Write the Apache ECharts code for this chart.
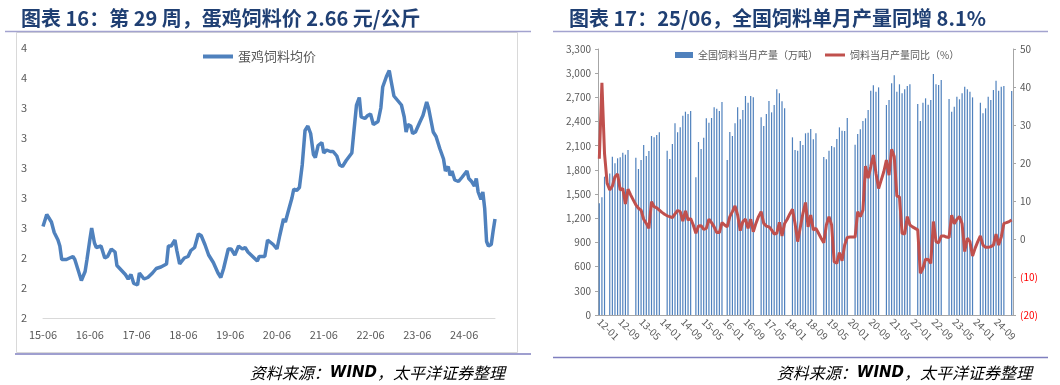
<!DOCTYPE html>
<html><head><meta charset="utf-8">
<script src="https://cdn.jsdelivr.net/npm/echarts@6/dist/echarts.min.js"></script>
<style>html,body{margin:0;padding:0;background:#fff}#c{width:1060px;height:385px}</style>
</head><body><div id="c"></div>
<script>
// ---- Left chart: egg-layer feed average price (weekly, position index along the category axis)
const eggLabels = ['15-06','16-06','17-06','18-06','19-06','20-06','21-06','22-06','23-06','24-06'];
const priceIdx = [0,4,9,12,16,18,20,25,32,34,37,41,45,47,50,52,55,57,62,66,69,73,77,79,82,88,91,94,97,101,103,108,112,117,121,126,132,134,137,141,143,146,148,151,155,158,162,166,169,173,177,182,187,190,193,198,201,205,209,213,216,219,224,229,231,237,240,242,246,250,253,257,259,262,266,268,271,274,277,280,283,286,289,291,294,298,300,303,307,310,314,317,320,324,330,332,335,338,340,344,347,350,353,355,358,361,363,367,370,372,375,379,381,383,386,388,390,393,395,398,403,406,410,412,417,420,424,428,430,433,435,437,440,444,448,453,455,458,461,463,465,468,470,472,474,476,479,481,483];
const price = [2.61,2.69,2.64,2.57,2.52,2.48,2.39,2.39,2.41,2.39,2.33,2.25,2.31,2.39,2.52,2.60,2.50,2.47,2.48,2.40,2.41,2.46,2.44,2.35,2.33,2.29,2.26,2.29,2.23,2.22,2.30,2.26,2.27,2.30,2.33,2.34,2.36,2.48,2.48,2.52,2.45,2.36,2.35,2.40,2.41,2.45,2.47,2.56,2.55,2.49,2.42,2.37,2.30,2.27,2.33,2.46,2.46,2.42,2.48,2.46,2.47,2.44,2.41,2.38,2.41,2.41,2.52,2.52,2.49,2.46,2.55,2.66,2.64,2.71,2.80,2.86,2.85,2.87,3.02,3.25,3.28,3.23,3.09,3.07,3.15,3.17,3.10,3.12,3.11,3.11,3.08,3.02,3.01,3.05,3.10,3.23,3.42,3.47,3.34,3.33,3.35,3.36,3.29,3.30,3.31,3.40,3.54,3.61,3.65,3.58,3.48,3.45,3.46,3.42,3.34,3.24,3.29,3.28,3.23,3.24,3.31,3.35,3.44,3.40,3.24,3.21,3.13,3.06,2.98,3.01,2.95,2.98,2.92,2.91,2.94,2.98,2.93,2.91,2.88,2.93,2.84,2.79,2.84,2.73,2.51,2.48,2.49,2.58,2.66];

// ---- Right chart: monthly feed output (10k t) and YoY (%)
const startYear = 2012, monthCount = 159;
const months = [];
for (let i = 0; i < monthCount; i++) {
  const y = startYear + Math.floor(i / 12), m = i % 12 + 1;
  months.push(String(y).slice(2) + '-' + (m < 10 ? '0' + m : m));
}
const feedOutput = [1385,1460,1716,null,1757,1964,1882,1944,1956,2014,1989,2047,null,null,
1952,1811,1923,2109,1973,2035,2221,2204,2233,2266,null,null,
2039,1935,2121,2378,2266,2328,2473,2522,2494,2531,null,
1708,2146,2059,2200,2440,2386,2444,2576,2560,2531,2642,null,
1923,2270,2221,2378,2576,2428,2543,2717,2634,2717,2700,null,null,
2452,2345,2494,2655,2514,2605,2800,2750,2651,2564,null,null,
2204,2047,2039,2159,2110,2254,2262,2307,2179,2254,null,null,
1960,1931,2039,2097,2080,2183,2328,2287,2283,2444,null,null,
2113,2245,2303,2407,2440,2543,2783,2849,2771,2824,null,null,
2605,2667,2874,2973,2771,2862,2750,2800,2841,2862,null,null,
2618,2407,2634,2688,2609,2667,2990,2862,2853,2915,null,null,
2680,2522,2585,2709,2676,2750,2833,2800,2771,2700,null,null,
2634,2502,2564,2709,2667,2791,2907,2783,2833,2841,null,null,
2779];
const feedYoY = [21.1,41.1,22.5,14.7,12.9,13.9,16.4,17.1,12.9,13.3,9.2,13.1,11.6,10.3,
9.0,8.1,7.6,5.2,4.1,2.8,9.8,8.5,8.2,7.6,7.0,6.5,
6.1,5.9,5.6,6.6,7.5,7.2,4.7,7.4,5.0,5.4,3.7,
1.5,3.4,3.5,2.5,2.8,5.2,4.3,3.2,1.7,1.7,4.3,3.7,
3.2,5.9,7.2,8.7,6.3,2.2,4.6,5.2,2.8,5.2,1.9,4.1,5.9,
7.2,4.1,3.4,3.2,2.4,1.3,1.5,4.4,0.8,4.1,5.2,6.6,
7.8,4.1,-0.7,3.0,6.7,9.6,3.2,6.3,2.4,2.8,1.5,0.2,
-1.0,3.7,5.9,3.7,-6.0,-6.4,-3.6,-5.7,-1.6,0.4,0.5,0.5,
0.5,7.2,5.9,7.6,19.2,16.0,19.0,22.1,17.3,13.3,15.5,17.7,
20.8,16.8,23.6,21.7,11.3,11.1,1.5,1.3,5.9,3.7,3.2,2.8,
2.4,-9.0,-7.7,-5.3,-5.4,-6.4,4.6,-0.7,-1.0,0.8,0.8,0.5,
0.4,6.3,4.0,5.2,5.9,4.0,-3.3,0.2,-0.7,-4.5,-2.4,-0.7,
0.8,-1.6,-2.2,-2.2,-2.0,-1.6,1.3,-1.6,0.5,4.1,4.3,4.6,
5.0];

const GRAY = '#595959';
const FONT = '"Noto Sans CJK SC","Noto Sans",sans-serif';
const chart = echarts.init(document.getElementById('c'));
const srcRich = {
  a: {fontFamily: FONT, fontStyle: 'italic', fontSize: 16, fill: '#000', color: '#000'},
  b: {fontFamily: 'DejaVu Sans', fontStyle: 'italic', fontWeight: 'bold', fontSize: 15, fill: '#000', color: '#000'}
};
chart.setOption({
  animation: false,
  backgroundColor: '#fff',
  textStyle: {fontFamily: FONT},
  title: [
    {text: '图表 16：第 29 周，蛋鸡饲料价 2.66 元/公斤', left: 16, top: 3,
     textStyle: {fontSize: 20, fontWeight: 'bold', color: '#1f3f73', fontFamily: FONT}},
    {text: '图表 17：25/06，全国饲料单月产量同增 8.1%', left: 564, top: 3,
     textStyle: {fontSize: 20, fontWeight: 'bold', color: '#1f3f73', fontFamily: FONT}}
  ],
  legend: [
    {data: ['蛋鸡饲料均价'], left: 198, top: 45, icon: 'rect', itemWidth: 30, itemHeight: 4,
     textStyle: {color: GRAY, fontSize: 13}},
    {data: ['全国饲料当月产量（万吨）'], left: 670, top: 45, icon: 'rect', itemWidth: 18, itemHeight: 6,
     textStyle: {color: GRAY, fontSize: 10}},
    {data: ['饲料当月产量同比（%）'], left: 820, top: 45, icon: 'rect', itemWidth: 20, itemHeight: 3,
     textStyle: {color: GRAY, fontSize: 10}}
  ],
  grid: [
    {left: 43, right: 565, top: 48, bottom: 67},
    {left: 598, right: 47, top: 49, bottom: 70}
  ],
  xAxis: [
    {gridIndex: 0, type: 'value', min: 0, max: 483, interval: 50,
     axisLine: {lineStyle: {color: '#d9d9d9'}}, axisTick: {show: false}, splitLine: {show: false},
     axisLabel: {color: GRAY, fontSize: 11, margin: 11,
       formatter: v => (v % 50 === 0 && eggLabels[v / 50]) ? eggLabels[v / 50] : ''}},
    {gridIndex: 1, type: 'category', data: months, boundaryGap: true,
     axisLine: {lineStyle: {color: '#a6a6a6'}},
     axisTick: {interval: 7, length: 4, lineStyle: {color: '#a6a6a6'}},
     axisLabel: {interval: 7, rotate: -45, color: GRAY, fontSize: 10, margin: 5}}
  ],
  yAxis: [
    {gridIndex: 0, type: 'value', min: 2, max: 3.8, interval: 0.2,
     axisLine: {show: false}, axisTick: {show: false}, splitLine: {show: false},
     axisLabel: {color: GRAY, fontSize: 11, margin: 16, formatter: v => String(Math.round(v))}},
    {gridIndex: 1, type: 'value', position: 'left', min: 0, max: 3300, interval: 300,
     axisLine: {show: true, lineStyle: {color: '#a6a6a6'}},
     axisTick: {show: true, length: 3, lineStyle: {color: '#a6a6a6'}}, splitLine: {show: false},
     axisLabel: {color: GRAY, fontSize: 10, margin: 7, formatter: v => v.toLocaleString('en-US')}},
    {gridIndex: 1, type: 'value', position: 'right', min: -20, max: 50, interval: 10,
     axisLine: {show: true, lineStyle: {color: '#a6a6a6'}},
     axisTick: {show: true, length: 3, lineStyle: {color: '#a6a6a6'}}, splitLine: {show: false},
     axisLabel: {color: GRAY, fontSize: 10, margin: 7,
       formatter: v => v < 0 ? '{neg|(' + (-v) + ')}' : String(v),
       rich: {neg: {color: '#ff0000', fontSize: 10}}}}
  ],
  series: [
    {name: '蛋鸡饲料均价', type: 'line', xAxisIndex: 0, yAxisIndex: 0,
     data: priceIdx.map((t, i) => [t, price[i]]), showSymbol: false, symbol: 'none',
     lineStyle: {width: 3.5, color: '#4f81bd'}, itemStyle: {color: '#4f81bd'}},
    {name: '全国饲料当月产量（万吨）', type: 'bar', xAxisIndex: 1, yAxisIndex: 1,
     data: feedOutput, barWidth: 1.2, itemStyle: {color: '#4f81bd'}},
    {name: '饲料当月产量同比（%）', type: 'line', xAxisIndex: 1, yAxisIndex: 2,
     data: feedYoY, showSymbol: false, symbol: 'none', connectNulls: true,
     lineStyle: {width: 3, color: '#c0504d'}, itemStyle: {color: '#c0504d'}}
  ],
  graphic: [
    {type: 'rect', shape: {x: 16.5, y: 32.5, width: 501, height: 320}, style: {fill: 'none', stroke: '#d9d9d9', lineWidth: 1}, z: -1},
    {type: 'line', shape: {x1: 5, y1: 31.5, x2: 531, y2: 31.5}, style: {stroke: '#a3a3cf', lineWidth: 1.5}},
    {type: 'line', shape: {x1: 553, y1: 31.5, x2: 1048, y2: 31.5}, style: {stroke: '#a3a3cf', lineWidth: 1.5}},
    {type: 'line', shape: {x1: 15, y1: 354, x2: 531, y2: 354}, style: {stroke: '#7f7fbf', lineWidth: 1.5}},
    {type: 'line', shape: {x1: 553, y1: 357.5, x2: 1048, y2: 357.5}, style: {stroke: '#7f7fbf', lineWidth: 1.5}},
    {type: 'text', style: {x: 505, y: 373, align: 'right', verticalAlign: 'middle',
      text: '{a|资料来源：}{b|WIND}{a|，太平洋证券整理}', rich: srcRich}},
    {type: 'text', style: {x: 1032, y: 373, align: 'right', verticalAlign: 'middle',
      text: '{a|资料来源：}{b|WIND}{a|，太平洋证券整理}', rich: srcRich}}
  ]
});
</script></body></html>
